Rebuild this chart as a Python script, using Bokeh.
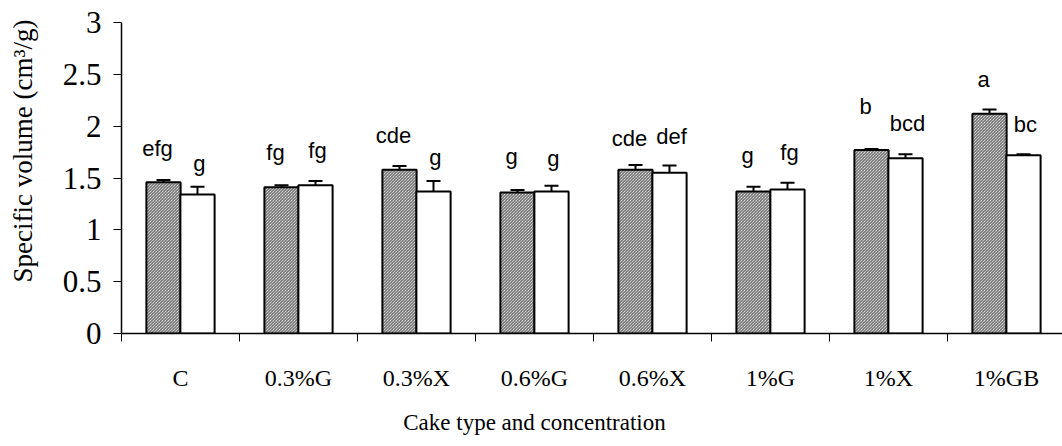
from bokeh.plotting import figure
from bokeh.models import ColumnDataSource, Whisker, FixedTicker, Range1d
from bokeh.core.properties import value
from bokeh.embed import file_html
from bokeh.resources import INLINE

# Specific volume of cakes (cm3/g), two series per cake type
categories = ["C", "0.3%G", "0.3%X", "0.6%G", "0.6%X", "1%G", "1%X", "1%GB"]
series_a = [1.46, 1.41, 1.58, 1.36, 1.58, 1.37, 1.77, 2.12]
series_a_err = [0.02, 0.02, 0.035, 0.025, 0.045, 0.045, 0.01, 0.04]
series_b = [1.34, 1.43, 1.37, 1.37, 1.55, 1.39, 1.69, 1.72]
series_b_err = [0.075, 0.04, 0.10, 0.055, 0.07, 0.065, 0.04, 0.008]
letters_a = ["efg", "fg", "cde", "g", "cde", "g", "b", "a"]
letters_b = ["g", "fg", "g", "g", "def", "fg", "bcd", "bc"]
y_ticks = [0, 0.5, 1, 1.5, 2, 2.5, 3]
y_tick_labels = ["0", "0.5", "1", "1.5", "2", "2.5", "3"]

SERIF = "Liberation Serif"
SANS = "Liberation Sans"

W, H = 1062, 446
LEFT, TOP, BOTTOM = 121, 22, 113
CAT_PX = 118.0

n = len(categories)
centers = [i + 0.5 for i in range(n)]
shift = 0.144
bar_w = 0.29

# extra pixel lift for individual significance letters
nudge_a = [2, 3, 1, 3, -3, 1, 12, 0]
nudge_b = [-7, 1, -6, -3, -1, 0, 1, 0]
gap_px = 30

src_a = ColumnDataSource(dict(
    x=[c - shift for c in centers], top=series_a,
    lo=[v - e for v, e in zip(series_a, series_a_err)],
    hi=[v + e for v, e in zip(series_a, series_a_err)],
    lab=letters_a, yoff=[-(gap_px + d) for d in nudge_a]))
src_b = ColumnDataSource(dict(
    x=[c + shift for c in centers], top=series_b,
    lo=[v - e for v, e in zip(series_b, series_b_err)],
    hi=[v + e for v, e in zip(series_b, series_b_err)],
    lab=letters_b, yoff=[-(gap_px + d) for d in nudge_b]))

p = figure(width=W, height=H, output_backend="svg", toolbar_location=None,
           x_range=Range1d(0, (W - LEFT) / CAT_PX), y_range=Range1d(0, 3),
           min_border_left=LEFT, min_border_right=0, min_border_top=TOP,
           min_border_bottom=BOTTOM)
p.outline_line_color = None
p.grid.visible = False
p.background_fill_color = "white"
p.border_fill_color = "white"

p.vbar(x="x", top="top", width=bar_w, source=src_a, fill_color="white",
       hatch_pattern="\\", hatch_color="black", hatch_scale=3.0, hatch_weight=0.65,
       line_color="black", line_width=2)
p.vbar(x="x", top="top", width=bar_w, source=src_b, fill_color="white",
       line_color="black", line_width=2)

for src, dx in ((src_a, -6), (src_b, 2)):
    w = Whisker(base="x", lower="lo", upper="hi", source=src,
                line_color="black", line_width=2)
    w.upper_head.size = 14
    w.lower_head.size = 14
    w.upper_head.line_width = 2
    w.lower_head.line_width = 2
    p.add_layout(w)
    p.text(x="x", y="hi", text="lab", source=src, x_offset=dx, y_offset="yoff",
           text_align="center", text_baseline="alphabetic",
           text_font=value(SANS), text_font_size="22px", text_color="black")

# x axis: category names at centres, tick marks at boundaries
xa = p.xaxis[0]
xa.ticker = FixedTicker(ticks=centers, minor_ticks=list(range(n + 1)))
xa.major_label_overrides = {c: name for c, name in zip(centers, categories)}
xa.major_tick_out = 0
xa.major_tick_in = 0
xa.minor_tick_out = 8
xa.minor_tick_in = 0
xa.minor_tick_line_color = "black"
xa.minor_tick_line_width = 1
xa.axis_line_color = "black"
xa.axis_line_width = 1.5
xa.major_label_text_font = SERIF
xa.major_label_text_font_size = "24px"
xa.major_label_text_color = "black"
xa.major_label_standoff = 23
# trailing em spaces pull the centred title to the left
xa.axis_label = "Cake type and concentration" + "\u2003" * 5
xa.axis_label_text_font = SERIF
xa.axis_label_text_font_size = "23px"
xa.axis_label_text_font_style = "normal"
xa.axis_label_text_color = "black"
xa.axis_label_standoff = 16

ya = p.yaxis[0]
ya.ticker = FixedTicker(ticks=y_ticks, minor_ticks=[])
ya.major_label_overrides = {float(t): s for t, s in zip(y_ticks, y_tick_labels)}
ya.major_tick_out = 8
ya.major_tick_in = 0
ya.major_tick_line_color = "black"
ya.axis_line_color = "black"
ya.axis_line_width = 1.5
ya.major_label_text_font = SERIF
ya.major_label_text_font_size = "31px"
ya.major_label_text_color = "black"
ya.major_label_standoff = 12
# leading em spaces lift the centred title
ya.axis_label = "\u2003\u2003" + "Specific volume (cm³/g)"
ya.axis_label_text_font = SERIF
ya.axis_label_text_font_size = "27px"
ya.axis_label_text_font_style = "normal"
ya.axis_label_text_color = "black"
ya.axis_label_standoff = 22

open("out.html", "w").write(file_html(p, INLINE))
